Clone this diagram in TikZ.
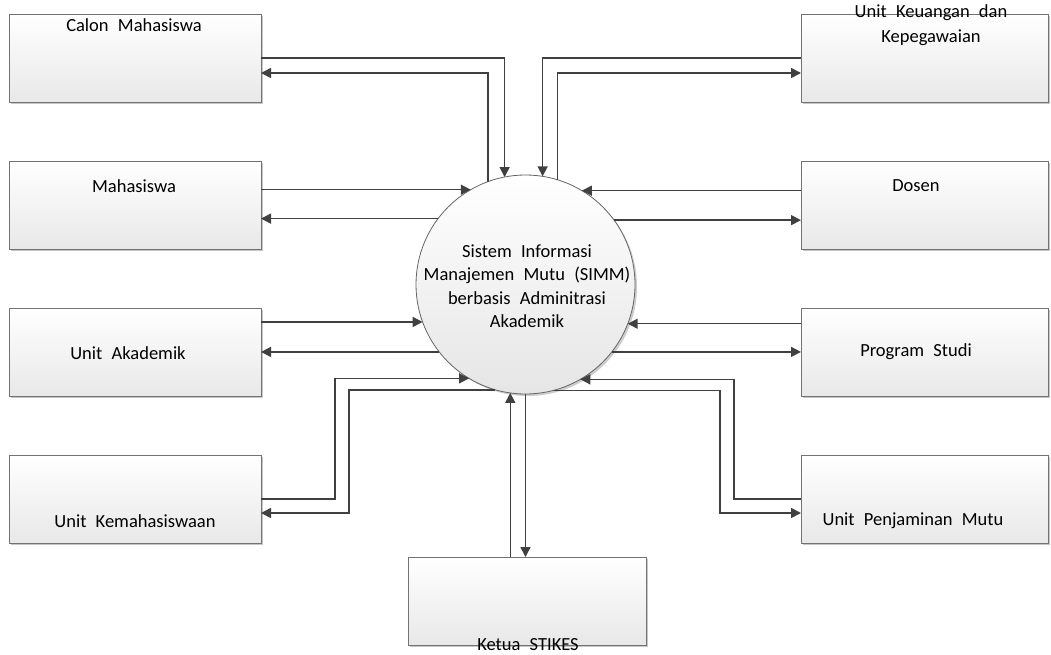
\documentclass[tikz,border=0pt]{standalone}
\usepackage{fontspec}
\setmainfont{Carlito}
\usetikzlibrary{arrows.meta,shadows}
\newcommand\ws{\hspace{0.5em}}
\begin{document}
\begin{tikzpicture}[x=1pt,y=-1pt,
  ebox/.style={draw=black!55, line width=0.8pt, top color=white, bottom color=black!9,
    minimum height=88pt, inner sep=0pt, outer sep=0pt,
    drop shadow={shadow xshift=2pt, shadow yshift=-2pt, fill=black!22, opacity=1}},
  lbox/.style={ebox, minimum width=252pt},
  rbox/.style={ebox, minimum width=247pt},
  lbl/.style={font=\fontsize{18.5}{23.5}\selectfont, inner sep=0pt, align=center, text=black},
  flow/.style={draw=black!75, line width=1.5pt, -{Triangle[length=10pt,width=10pt]}}
]
\useasboundingbox (0,0) rectangle (1051,654);

% boxes
\node[lbox] (cal) at (135,58) {};
\node[lbox] (mah) at (135,205) {};
\node[lbox] (aka) at (135,352) {};
\node[lbox] (kem) at (135,499) {};
\node[rbox] (keu) at (924.5,58) {};
\node[rbox] (dos) at (924.5,205) {};
\node[rbox] (pro) at (924.5,352) {};
\node[rbox] (pen) at (924.5,499) {};
\node[ebox, minimum width=238pt] (ket) at (527,601) {};

% central process
\node[circle, draw=black!60, line width=0.8pt, top color=white, bottom color=black!10,
  minimum size=219pt, inner sep=0pt, outer sep=0pt,
  drop shadow={shadow xshift=2pt, shadow yshift=-2pt, fill=black!20, opacity=1}] (c) at (525.5,284.5) {};
\node[lbl] (ct) at (527,286) {Sistem\ws Informasi\\Manajemen\ws Mutu\ws (SIMM)\\berbasis\ws Adminitrasi\\Akademik};

% labels
\node[lbl] (t1) at (134,25) {Calon\ws Mahasiswa};
\node[lbl] (t2) at (134,186) {Mahasiswa};
\node[lbl] (t3) at (128,353) {Unit\ws Akademik};
\node[lbl] (t4) at (135,521) {Unit\ws Kemahasiswaan};
\node[lbl] (t5) at (931,13) {Unit\ws Keuangan\ws dan};
\node[lbl] (t6) at (931,38) {Kepegawaian};
\node[lbl] (t7) at (916,186) {Dosen};
\node[lbl] (t8) at (916,352) {Program\ws Studi};
\node[lbl] (t9) at (913,521) {Unit\ws Penjaminan\ws Mutu};
\node[lbl] (t10) at (528,645) {Ketua\ws STIKES};

% helper coordinates
\coordinate (cal2) at ([yshift=-15pt]cal.east);
\coordinate (kem2) at ([yshift=-14pt]kem.east);
\coordinate (kx1) at ([xshift=74pt]kem.east);
\coordinate (kx2) at ([xshift=88pt]kem.east);
\coordinate (keu2) at ([yshift=-15pt]keu.west);
\coordinate (pen2) at ([yshift=-14pt]pen.west);
\coordinate (px1) at ([xshift=-67pt]pen.west);
\coordinate (px2) at ([xshift=-81pt]pen.west);

% Calon Mahasiswa
\draw[flow] (cal.east) -- (cal.east -| c.101.9) -- (c.101.9);
\draw[flow] (c.110) -- (c.110 |- cal2) -- (cal2);
% Mahasiswa
\draw[flow] (c.120.3 -| mah.east) -- (c.120.3);
\draw[flow] (c.143.9) -- (c.143.9 -| mah.east);
% Unit Akademik
\draw[flow] (c.200.6 -| aka.east) -- (c.200.6);
\draw[flow] (c.218) -- (c.218 -| aka.east);
% Unit Kemahasiswaan
\draw[flow] (kem.east) -- (kx1) -- (kx1 |- c.239.7) -- (c.239.7);
\draw[flow] (c.254.5) -- (c.254.5 -| kx2) -- (kx2 |- kem2) -- (kem2);
% Unit Keuangan dan Kepegawaian
\draw[flow] (keu.west) -- (keu.west -| c.81.3) -- (c.81.3);
\draw[flow] (c.73.8) -- (c.73.8 |- keu2) -- (keu2);
% Dosen
\draw[flow] (c.59.7 -| dos.west) -- (c.59.7);
\draw[flow] (c.36.1) -- (c.36.1 -| dos.west);
% Program Studi
\draw[flow] (c.339.4 -| pro.west) -- (c.339.4);
\draw[flow] (c.322) -- (c.322 -| pro.west);
% Unit Penjaminan Mutu
\draw[flow] (pen.west) -- (px1) -- (px1 |- c.300.3) -- (c.300.3);
\draw[flow] (c.285.5) -- (c.285.5 -| px2) -- (px2 |- pen2) -- (pen2);
% Ketua STIKES
\draw[flow] (c.262.4 |- ket.north) -- (c.262.4);
\draw[flow] (c.270.8) -- (c.270.8 |- ket.north);
\end{tikzpicture}
\end{document}
